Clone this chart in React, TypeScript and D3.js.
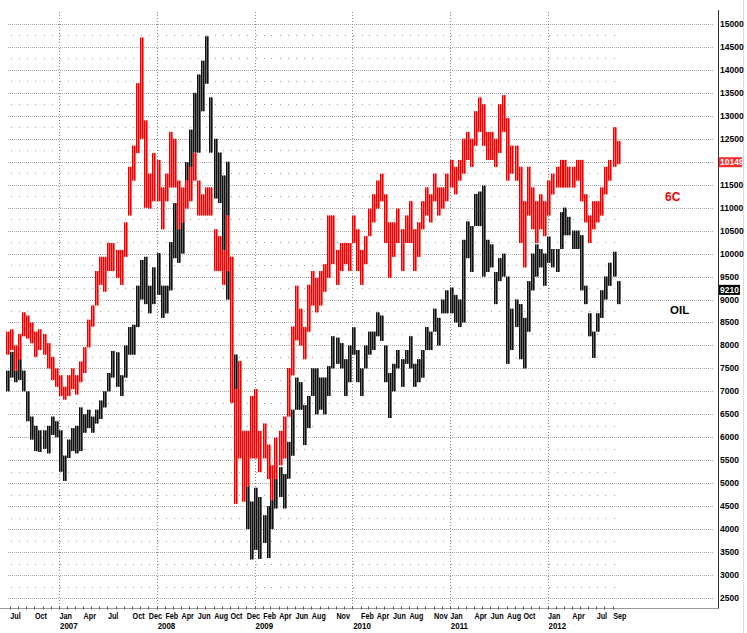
import React from "react";
import * as d3 from "d3";

// Half-month bars starting with the second half of June 2006 (index 0)
// OIL (black) — bar lows / highs in axis units
const oilLow = [
  7000, 7300, 7200, 7250, 7000, 6350, 5950, 5700, 5680, 5750, 5650, 6050, 6000,
  5250, 5050, 5550, 5700, 5650, 5700, 6100, 6200, 6100, 6300, 6400, 6650, 7000, 7300, 7100, 6900, 7300, 7800, 7800, 8400, 9000, 8900, 8700, 8900,
  9100, 8600, 8700, 9200, 9900, 9800, 10000, 11100, 11700, 12200, 12200, 13100, 13700, 12200, 11200, 11100, 10000, 9000, 7700, 6200, 5700, 4800, 4000, 3340,
  3550, 3350, 3700, 3370, 4000, 4450, 4700, 4450, 5100, 5600, 6600, 6600, 5830, 6200, 6900, 6500, 6600, 6500, 6900, 7500, 7600, 7500, 6900, 7200,
  7800, 7200, 6900, 7500, 7800, 7900, 8200, 8100, 7200, 6420, 7000, 7500, 7100, 7600, 7500, 7100, 7200, 7300, 7900, 7900, 8300, 8000, 8700, 8700,
  8700, 8500, 8400, 8500, 9900, 9600, 10600, 10600, 9500, 9600, 9700, 8900, 9400, 9500, 7600, 7900, 8400, 7700, 7500, 8300, 9200, 9500, 9700, 9300,
  9800, 9700, 9600, 10100, 10400, 10400, 10100, 10100, 9200, 8900, 8200, 7730, 8300, 8600, 9000, 9300, 9500, 8900,
];
const oilHigh = [
  7450, 7860, 7800, 7750, 7450, 7000, 6450, 6250, 6150, 6150, 6250, 6450, 6350,
  6150, 5600, 5950, 6200, 6250, 6650, 6500, 6600, 6450, 6600, 6800, 7000, 7400, 7880, 7850, 7350, 8000, 8400, 8450, 9300, 9860, 9930, 9300, 9700,
  10010, 9300, 9300, 10250, 11100, 10700, 11200, 11990, 12700, 13500, 13900, 14200, 14730, 13400, 12500, 12200, 11700, 12000, 9500, 7800, 7100, 5800, 5000, 4600,
  4900, 4700, 4300, 4500, 4800, 5450, 5350, 5200, 5900, 6600, 7300, 7200, 6700, 6900, 7500, 7500, 7300, 7300, 7550, 8200, 8170, 8050, 7700, 8000,
  8395, 7900, 7500, 8000, 8300, 8300, 8720, 8650, 8000, 7400, 7600, 7900, 7700, 7900, 8200, 7600, 7700, 7900, 8400, 8300, 8800, 8600, 9000, 9200,
  9260, 9100, 9000, 10300, 10700, 10600, 11300, 11350, 11480, 10300, 10200, 9600, 9900, 10000, 9500, 8800, 9000, 8900, 8600, 9400, 10000, 10200, 10100, 10000,
  10370, 10100, 10100, 10900, 11000, 10800, 10500, 10500, 10400, 9300, 8700, 8300, 8700, 9200, 9500, 9800, 10040, 9400,
];

// 6C (red) — bar lows / highs in axis units
const cadLow = [
  7800, 7900, 7450, 7700, 8200, 8150, 8050, 7750, 7900, 7800, 7500, 7250, 7100,
  6900, 6820, 6900, 7050, 6930, 7200, 7400, 7960, 8410, 8870, 9320, 9170, 9620, 9620, 9470, 9320, 9930, 10830, 11590, 12190, 12500, 11000, 10980, 11140,
  11140, 10530, 11140, 11440, 11440, 10530, 10680, 10980, 11140, 11590, 10830, 10830, 10830, 10830, 9620, 9620, 9320, 9620, 6750, 4550, 5540, 4600, 4930, 5540,
  5540, 5240, 5540, 5090, 4630, 5090, 5390, 5540, 6450, 7350, 8110, 8000, 7700, 8300, 8870, 8720, 8870, 9170, 9470, 9770, 9320, 9620, 9770, 9620,
  10230, 9620, 9320, 9770, 10380, 10680, 10980, 11140, 10230, 9470, 9930, 10230, 9620, 10230, 10230, 9620, 9930, 10530, 10830, 10680, 11140, 10830, 10980, 11140,
  11440, 11290, 11590, 11740, 12040, 11890, 12350, 12650, 12350, 12040, 12040, 11890, 12190, 12650, 11590, 11740, 11590, 10230, 9700, 10830, 10530, 10230, 10530, 10380,
  10830, 11290, 11440, 11440, 11440, 11440, 11440, 11590, 11140, 10680, 10230, 10530, 10680, 10830, 11290, 11590, 11890, 11950,
];
const cadHigh = [
  8300, 8350, 8000, 8250, 8720, 8650, 8500, 8300, 8350, 8250, 8050, 7750, 7500,
  7350, 7100, 7350, 7500, 7350, 7650, 7960, 8560, 8870, 9620, 9930, 9930, 10230, 10230, 10080, 10080, 10680, 11890, 12350, 13710, 14705, 12900, 11740, 12190,
  12040, 11440, 11740, 12650, 12500, 11590, 11440, 11590, 11890, 12190, 11590, 11290, 11440, 11440, 10530, 10380, 10080, 10830, 9930, 7050, 7660, 6140, 6140, 6900,
  7050, 6140, 6300, 5840, 5390, 5990, 6140, 6450, 7510, 8410, 9300, 8800, 8400, 9320, 9620, 9470, 9620, 9770, 10830, 10830, 10080, 10230, 10230, 10230,
  10830, 10530, 10080, 10380, 10980, 11290, 11590, 11740, 11290, 10680, 10680, 10980, 10530, 10830, 11140, 10530, 10680, 11140, 11440, 11290, 11740, 11440, 11440, 11740,
  12040, 11890, 12040, 12500, 12650, 12500, 13100, 13400, 13250, 12650, 12650, 12500, 13250, 13450, 12950, 12350, 12350, 11890, 11140, 11890, 11440, 11140, 11290, 11140,
  11590, 11740, 11890, 12040, 12040, 11890, 11890, 12040, 12040, 11290, 10830, 11140, 11140, 11440, 11890, 12040, 12750, 12450,
];

const lastCadLevel = 11990;
const lastCadText = "10149";
const lastOil = 9210;
const lastOilText = "9210";

const yTicks = [2500, 3000, 3500, 4000, 4500, 5000, 5500, 6000, 6500, 7000, 7500, 8000, 8500, 9000, 9500, 10000, 10500, 11000, 11500, 12000, 12500, 13000, 13500, 14000, 14500, 15000];

const monthLabels: [number, number, string][] = [
  [2006, 6, "Jul"], [2006, 9, "Oct"], [2007, 0, "Jan"], [2007, 3, "Apr"], [2007, 6, "Jul"], [2007, 9, "Oct"], [2007, 11, "Dec"],
  [2008, 1, "Feb"], [2008, 3, "Apr"], [2008, 5, "Jun"], [2008, 7, "Aug"], [2008, 9, "Oct"], [2008, 11, "Dec"],
  [2009, 1, "Feb"], [2009, 3, "Apr"], [2009, 5, "Jun"], [2009, 7, "Aug"], [2009, 10, "Nov"],
  [2010, 1, "Feb"], [2010, 3, "Apr"], [2010, 5, "Jun"], [2010, 7, "Aug"], [2010, 10, "Nov"],
  [2011, 0, "Jan"], [2011, 3, "Apr"], [2011, 5, "Jun"], [2011, 7, "Aug"], [2011, 9, "Oct"],
  [2012, 0, "Jan"], [2012, 3, "Apr"], [2012, 6, "Jul"], [2012, 8, "Sep"],
];
const yearLabels = [2007, 2008, 2009, 2010, 2011, 2012];

function halfDate(i: number) {
  const k = i + 1;
  return new Date(2006, 5 + Math.floor(k / 2), k % 2 ? 23 : 8);
}

const FONT = "'Liberation Sans',Arial,sans-serif";

export default function App() {
  const W = 747, H = 633;
  const x = d3.scaleTime().domain([new Date(2007, 0, 1), new Date(2012, 0, 1)]).range([59, 547.5]);
  const y = d3.scaleLinear().domain([2500, 15000]).range([598, 24]);
  const months = d3.timeMonth.range(new Date(2006, 6, 1), new Date(2012, 9, 1));
  const plotRight = 718.5;
  const bottom = 608.5;

  const bar = (lo: number, hi: number, i: number, fill: string, dark: string) => {
    const cx = Math.round(x(halfDate(i)));
    const top = y(hi);
    const h = Math.max(1, y(lo) - y(hi));
    return (
      <g key={i}>
        <rect x={cx - 2} y={top} width={4} height={h} fill={fill} />
        <rect x={cx - 2} y={top} width={1} height={h} fill={dark} />
        <rect x={cx} y={top} width={1} height={h} fill={dark} />
      </g>
    );
  };

  return (
    <svg width={W} height={H} style={{ position: "absolute", left: 0, top: 0, background: "#fff" }}
      fontFamily={FONT}>
      <rect x={0} y={0} width={W} height={H} fill="#fff" />
      {/* major horizontal grid */}
      {yTicks.map((v) => (
        <line key={"g" + v} x1={8} x2={713} y1={Math.round(y(v)) + 0.5} y2={Math.round(y(v)) + 0.5}
          stroke="#a8a8a8" strokeDasharray="1,1" />
      ))}
      {/* minor dots */}
      {yTicks.slice(0, -1).map((v) =>
        months.map((m, j) => (
          <rect key={"d" + v + "-" + j} x={Math.round(x(m) + 1)} y={Math.round(y(v + 250))} width={1} height={1} fill="#9a9a9a" />
        ))
      )}
      {/* year lines */}
      {yearLabels.map((yr) => {
        const xx = Math.round(x(new Date(yr, 0, 1))) + 0.5;
        return <line key={"v" + yr} x1={xx} x2={xx} y1={12} y2={bottom} stroke="#8a8a8a" strokeDasharray="1,2" />;
      })}
      {/* bottom axis */}
      <line x1={0} x2={plotRight} y1={bottom} y2={bottom} stroke="#9a9a9a" />
      {months.map((m, j) => {
        const xx = Math.round(x(m)) + 0.5;
        return <line key={"t" + j} x1={xx} x2={xx} y1={bottom - 2} y2={bottom + 1} stroke="#555" />;
      })}
      {/* right axis */}
      <line x1={plotRight} x2={plotRight} y1={10} y2={bottom} stroke="#333" />
      <line x1={743.5} x2={743.5} y1={0} y2={H} stroke="#dcdcdc" />

      {/* OIL bars */}
      <g>{oilLow.map((lo, i) => bar(lo, oilHigh[i], i, "#6a6a6a", "#111"))}</g>
      {/* 6C bars */}
      <g>{cadLow.map((lo, i) => bar(lo, cadHigh[i], i, "#ff6a6a", "#f00000"))}</g>

      {/* right labels */}
      {yTicks.map((v) => (
        <text key={"l" + v} x={720} y={y(v) + 3} fontSize={8.5} fontWeight="bold" fill="#000">{v}</text>
      ))}
      <rect x={719} y={y(lastCadLevel) - 5} width={23} height={10} fill="#ff2a2a" />
      <text x={720} y={y(lastCadLevel) + 3} fontSize={8.5} fontWeight="bold" fill="#fff">{lastCadText}</text>
      <rect x={719} y={y(lastOil) - 5} width={21} height={10} fill="#000" />
      <text x={720} y={y(lastOil) + 3} fontSize={8.5} fontWeight="bold" fill="#fff">{lastOilText}</text>

      {/* month / year labels */}
      {monthLabels.map(([yr, mo, t]) => (
        <text key={"m" + yr + mo} transform={`translate(${x(new Date(yr, mo, 1)) + 0.5},618.5) scale(0.82,1)`}
          fontSize={8.8} fontWeight="bold" fill="#000">{t}</text>
      ))}
      {yearLabels.map((yr) => (
        <text key={"y" + yr} transform={`translate(${x(new Date(yr, 0, 1)) + 1},628.5) scale(0.9,1)`}
          fontSize={8.8} fontWeight="bold" fill="#000">{yr}</text>
      ))}

      {/* series names */}
      <text x={665} y={201} fontSize={12} fontWeight="bold" fill="#f00000">6C</text>
      <text x={670} y={314} fontSize={11.5} fontWeight="bold" fill="#000">OIL</text>
    </svg>
  );
}
